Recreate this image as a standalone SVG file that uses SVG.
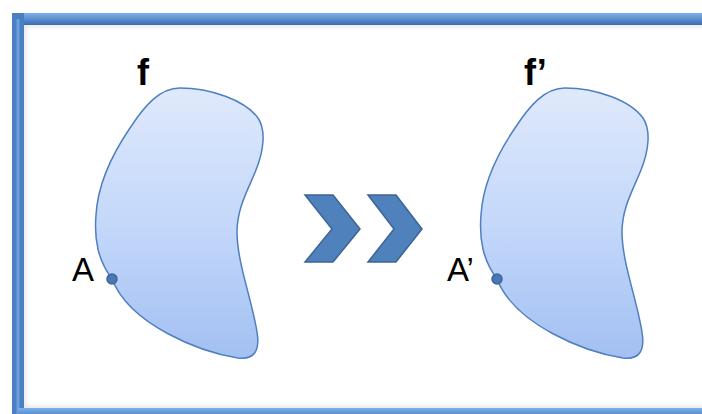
<svg xmlns="http://www.w3.org/2000/svg" width="702" height="414" viewBox="0 0 702 414">
<defs>
<linearGradient id="blobFill" x1="0" y1="0" x2="0" y2="1">
<stop offset="0" stop-color="#dfe9fb"/>
<stop offset="0.5" stop-color="#c4d8fa"/>
<stop offset="1" stop-color="#a3c0f2"/>
</linearGradient>
<linearGradient id="frameTop" x1="0" y1="0" x2="0" y2="1">
<stop offset="0" stop-color="#7cb2ec"/>
<stop offset="1" stop-color="#3b6cb0"/>
</linearGradient>
<filter id="sh" x="-5%" y="-5%" width="110%" height="110%">
<feGaussianBlur stdDeviation="2"/>
</filter>
<path id="blob" d="M180,88 C210,88 245,100 258,118 C266,130 264,150 256,170 C248,190 237,208 237,232 C237,262 252,300 257,332 C260,350 255,360 238,358 C200,352 130,325 112,279 C98,260 94,240 96,215 C98,180 115,150 130,128 C145,105 160,88 180,88 Z"/>
</defs>
<style>
.lbl{font-family:"Liberation Sans",Arial,sans-serif;fill:#000}
.blob{fill:url(#blobFill);stroke:#4f7fbf;stroke-width:1.5}
.pt{fill:#4a78b0;stroke:#3a65a0;stroke-width:1.5}
.chev{fill:#4f81bd;stroke:#3c6494;stroke-width:1.5;stroke-linejoin:miter}
</style>
<rect width="702" height="414" fill="#ffffff"/>
<g id="frame">
<rect x="24" y="25" width="690" height="383" fill="none" stroke="#999" stroke-width="3" opacity="0.35" filter="url(#sh)"/>
<rect x="18" y="13" width="700" height="12" fill="url(#frameTop)"/>
<rect x="12" y="13" width="12" height="401" fill="#4a7fc4"/>
<line x1="18" y1="19" x2="18" y2="414" stroke="#6c9fdc" stroke-width="3"/>
<rect x="18" y="408" width="700" height="12" fill="url(#frameTop)"/>
</g>
<g id="shape-f">
<use href="#blob" class="blob"/>
<text class="lbl" x="137" y="85" font-size="36" font-weight="bold">f</text>
</g>
<g id="point-A">
<circle cx="112" cy="279" r="5" class="pt"/>
<text class="lbl" x="72" y="281" font-size="33">A</text>
</g>
<g id="shape-f-prime">
<use href="#blob" class="blob" transform="translate(385,0)"/>
<text class="lbl" x="524" y="85" font-size="36" font-weight="bold">f’</text>
</g>
<g id="point-A-prime">
<circle cx="497" cy="279" r="5" class="pt"/>
<text class="lbl" x="447" y="281" font-size="33">A’</text>
</g>
<g id="connectors">
<polygon class="chev" points="305,195 333,195 360,229 333,262 305,262 332,229"/>
<polygon class="chev" points="368,195 396,195 422,229 396,262 368,262 394,229"/>
</g>
</svg>
